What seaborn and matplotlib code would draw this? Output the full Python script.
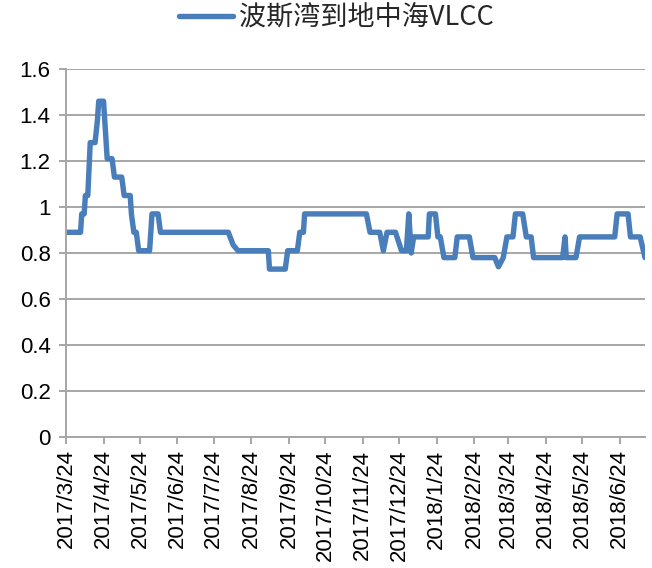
import numpy as np
import pandas as pd
import seaborn as sns
import matplotlib.pyplot as plt
import matplotlib.dates as mdates

sns.set_style("white")
plt.rcParams['font.family'] = ['Liberation Sans', 'Noto Sans CJK SC', 'DejaVu Sans']

# change points of the freight index series
dates = ["2017-03-24", "2017-04-05", "2017-04-06", "2017-04-08", "2017-04-09", "2017-04-11",
         "2017-04-13", "2017-04-17", "2017-04-19", "2017-04-20", "2017-04-24", "2017-04-27",
         "2017-05-01", "2017-05-03", "2017-05-09", "2017-05-11", "2017-05-16", "2017-05-17",
         "2017-05-19", "2017-05-21", "2017-05-23", "2017-06-01", "2017-06-03", "2017-06-08",
         "2017-06-10", "2017-08-05", "2017-08-09", "2017-08-13", "2017-09-07", "2017-09-08",
         "2017-09-21", "2017-09-23", "2017-10-01", "2017-10-03", "2017-10-06", "2017-10-07",
         "2017-11-27", "2017-11-30", "2017-12-08", "2017-12-11", "2017-12-14", "2017-12-21",
         "2017-12-26", "2017-12-30", "2018-01-01", "2018-01-03", "2018-01-05", "2018-01-17",
         "2018-01-18", "2018-01-23", "2018-01-25", "2018-01-27", "2018-01-30", "2018-02-08",
         "2018-02-10", "2018-02-20", "2018-02-23", "2018-03-13", "2018-03-16", "2018-03-20",
         "2018-03-23", "2018-03-28", "2018-03-30", "2018-04-05", "2018-04-08", "2018-04-12",
         "2018-04-14", "2018-05-08", "2018-05-10", "2018-05-11", "2018-05-19", "2018-05-22",
         "2018-06-20", "2018-06-22", "2018-07-01", "2018-07-03", "2018-07-11", "2018-07-15"]
values = [0.89, 0.89, 0.97, 0.97, 1.05, 1.05,
          1.28, 1.28, 1.38, 1.46, 1.46, 1.21,
          1.21, 1.13, 1.13, 1.05, 1.05, 0.97,
          0.89, 0.89, 0.81, 0.81, 0.97, 0.97,
          0.89, 0.89, 0.835, 0.81, 0.81, 0.73,
          0.73, 0.81, 0.81, 0.89, 0.89, 0.97,
          0.97, 0.89, 0.89, 0.81, 0.89, 0.89,
          0.81, 0.81, 0.97, 0.80, 0.87, 0.87,
          0.97, 0.97, 0.87, 0.87, 0.78, 0.78,
          0.87, 0.87, 0.78, 0.78, 0.74, 0.78,
          0.87, 0.87, 0.97, 0.97, 0.87, 0.87,
          0.78, 0.78, 0.87, 0.78, 0.78, 0.87,
          0.87, 0.97, 0.97, 0.87, 0.87, 0.78]
series_name = "波斯湾到地中海VLCC"
tick_dates = ["2017/3/24", "2017/4/24", "2017/5/24", "2017/6/24", "2017/7/24", "2017/8/24",
              "2017/9/24", "2017/10/24", "2017/11/24", "2017/12/24", "2018/1/24", "2018/2/24",
              "2018/3/24", "2018/4/24", "2018/5/24", "2018/6/24"]
y_ticks = [0, 0.2, 0.4, 0.6, 0.8, 1, 1.2, 1.4, 1.6]

df = pd.DataFrame({"date": pd.to_datetime(dates), "value": values})

fig = plt.figure(figsize=(6.52, 5.68), dpi=100)
ax = fig.add_axes([66 / 652, 1 - 437 / 568, (645 - 66) / 652, (437 - 69) / 568])

sns.lineplot(data=df, x="date", y="value", ax=ax, color="#4A7EBB", linewidth=3.9,
             label=series_name, legend=False)

ax.set_xlim(pd.Timestamp("2017-03-24"), pd.Timestamp("2018-07-15"))
ax.set_ylim(0, 1.6)
ax.set_yticks(y_ticks)
ax.set_yticklabels([("%g" % t) for t in y_ticks], fontsize=16)
ticks = pd.to_datetime(tick_dates, format="%Y/%m/%d")
ax.set_xticks(ticks)
ax.set_xticklabels(tick_dates, rotation=90, fontsize=16)
ax.set_xlabel("")
ax.set_ylabel("")

ax.grid(axis="y", color="#A6A6A6", linewidth=1.4)
ax.grid(axis="x", visible=False)
for s in ["top", "right"]:
    ax.spines[s].set_visible(False)
for s in ["left", "bottom"]:
    ax.spines[s].set_color("#A6A6A6")
    ax.spines[s].set_linewidth(1.4)
ax.tick_params(axis="both", which="major", length=5, width=1.4, color="#A6A6A6",
               labelcolor="black", bottom=True, left=True)
ax.tick_params(axis="x", pad=4)
ax.tick_params(axis="y", pad=6)

handles, labels = ax.get_legend_handles_labels()
fig.legend(handles, labels, loc="center", bbox_to_anchor=(0.516, 0.968), frameon=False,
           prop={"family": ["Noto Sans CJK SC", "DejaVu Sans"], "size": 19.5},
           handlelength=2.0, handletextpad=0.2)

fig.savefig("out.png", dpi=100)
